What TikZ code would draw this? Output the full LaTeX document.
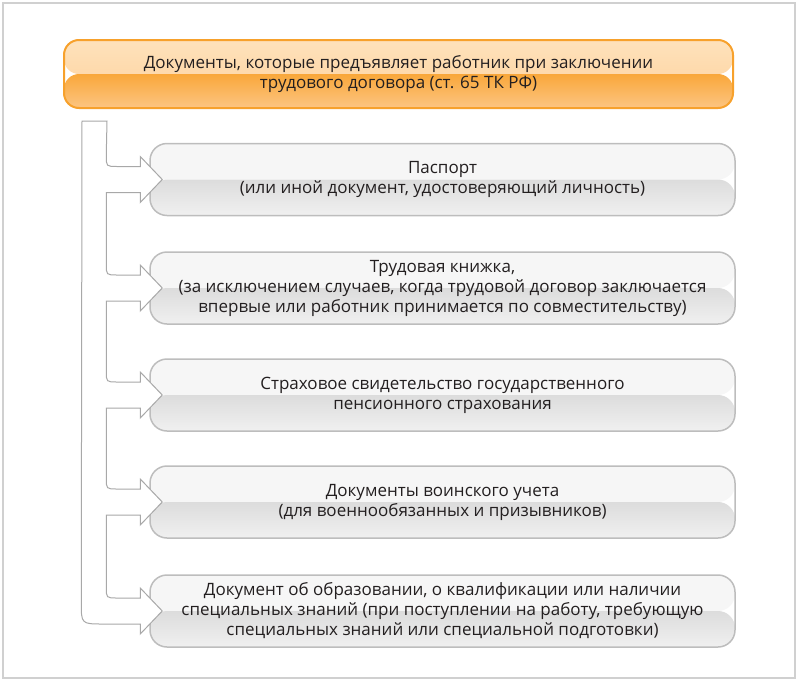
\documentclass[tikz,border=0pt]{standalone}
\usepackage{fontspec}
\setmainfont{Open Sans}
\usetikzlibrary{calc}
\definecolor{framegray}{HTML}{D0D0D0}
\definecolor{boxborder}{HTML}{BDBDBD}
\definecolor{boxtop}{HTML}{F6F6F6}
\definecolor{boxmid}{HTML}{DCDCDC}
\definecolor{boxbot}{HTML}{F0F0F0}
\definecolor{orborder}{HTML}{F7A12C}
\definecolor{ortop}{HTML}{FEE2BC}
\definecolor{ormidtop}{HTML}{FDD09A}
\definecolor{ormid}{HTML}{F9A73A}
\definecolor{orbot}{HTML}{FCC582}
\definecolor{arrowgray}{HTML}{A8A8A8}
\definecolor{txt}{HTML}{231F20}
\begin{document}
\begin{tikzpicture}[x=1pt,y=1pt,
  txtfont/.style={font=\fontsize{17}{20}\selectfont, text=txt, align=center},
  graybox/.style={txtfont, draw=boxborder, line width=1.5pt, rounded corners=17pt,
    minimum width=585pt, minimum height=72pt, inner sep=0pt,
    path picture={
      \fill[boxtop] (path picture bounding box.north west) rectangle (path picture bounding box.east);
      \shade[top color=boxmid, bottom color=boxbot] (path picture bounding box.west) rectangle (path picture bounding box.south east);
    }},
  orbox/.style={txtfont, draw=orborder, line width=2pt, rounded corners=15pt,
    minimum width=669pt, minimum height=68pt, inner sep=0pt,
    path picture={
      \shade[top color=ortop, bottom color=ormidtop] (path picture bounding box.north west) rectangle (path picture bounding box.east);
      \shade[top color=ormid, bottom color=orbot] (path picture bounding box.west) rectangle (path picture bounding box.south east);
    }},
  arrowshape/.style={draw=arrowgray, fill=white, line width=1pt, line join=miter}
]
\useasboundingbox (0,0) rectangle (800,-683);
\draw[framegray, line width=1.5pt] (3,-3) rectangle (795,-678);

\node[orbox] (head) at (398.5,-74) {Документы, которые предъявляет работник при заключении\\трудового договора (ст. 65 ТК РФ)};

\node[graybox] (b1) at (442.5,-179.5) {Паспорт\\(или иной документ, удостоверяющий личность)};
\node[graybox] (b2) at (442.5,-288) {Трудовая книжка,\\(за исключением случаев, когда трудовой договор заключается\\впервые или работник принимается по совместительству)};
\node[graybox] (b3) at (442.5,-395) {Страховое свидетельство государственного\\пенсионного страхования};
\node[graybox] (b4) at (442.5,-502) {Документы воинского учета\\(для военнообязанных и призывников)};
\node[graybox] (b5) at (442.5,-611) {Документ об образовании, о квалификации или наличии\\специальных знаний (при поступлении на работу, требующую\\специальных знаний или специальной подготовки)};

\foreach \i in {1,...,5} {\coordinate (t\i) at ($(b\i.west)+(13,0)$);}
\coordinate (start) at (82,-121);

\draw[arrowshape]
  (start) -- ++(25,0)
  -- ($(t1)+(-56,24)$) .. controls ($(t1)+(-56,13)$) .. ($(t1)+(-45,13)$)
  -- ($(t1)+(-22,13)$) -- ($(t1)+(-22,23)$) -- (t1) -- ($(t1)+(-22,-23)$) -- ($(t1)+(-22,-13)$) -- ($(t1)+(-56,-13)$)
  -- ($(t2)+(-56,24)$) .. controls ($(t2)+(-56,13)$) .. ($(t2)+(-45,13)$)
  -- ($(t2)+(-22,13)$) -- ($(t2)+(-22,23)$) -- (t2) -- ($(t2)+(-22,-23)$) -- ($(t2)+(-22,-13)$) -- ($(t2)+(-56,-13)$)
  -- ($(t3)+(-56,24)$) .. controls ($(t3)+(-56,13)$) .. ($(t3)+(-45,13)$)
  -- ($(t3)+(-22,13)$) -- ($(t3)+(-22,23)$) -- (t3) -- ($(t3)+(-22,-23)$) -- ($(t3)+(-22,-13)$) -- ($(t3)+(-56,-13)$)
  -- ($(t4)+(-56,24)$) .. controls ($(t4)+(-56,13)$) .. ($(t4)+(-45,13)$)
  -- ($(t4)+(-22,13)$) -- ($(t4)+(-22,23)$) -- (t4) -- ($(t4)+(-22,-23)$) -- ($(t4)+(-22,-13)$) -- ($(t4)+(-56,-13)$)
  -- ($(t5)+(-56,24)$) .. controls ($(t5)+(-56,13)$) .. ($(t5)+(-45,13)$)
  -- ($(t5)+(-22,13)$) -- ($(t5)+(-22,23)$) -- (t5) -- ($(t5)+(-22,-23)$) -- ($(t5)+(-22,-13)$)
  -- ($(t5)+(-59,-13)$) .. controls ($(t5)+(-81,-13)$) .. ($(t5)+(-81,9)$)
  -- (start) -- cycle;
\end{tikzpicture}
\end{document}
